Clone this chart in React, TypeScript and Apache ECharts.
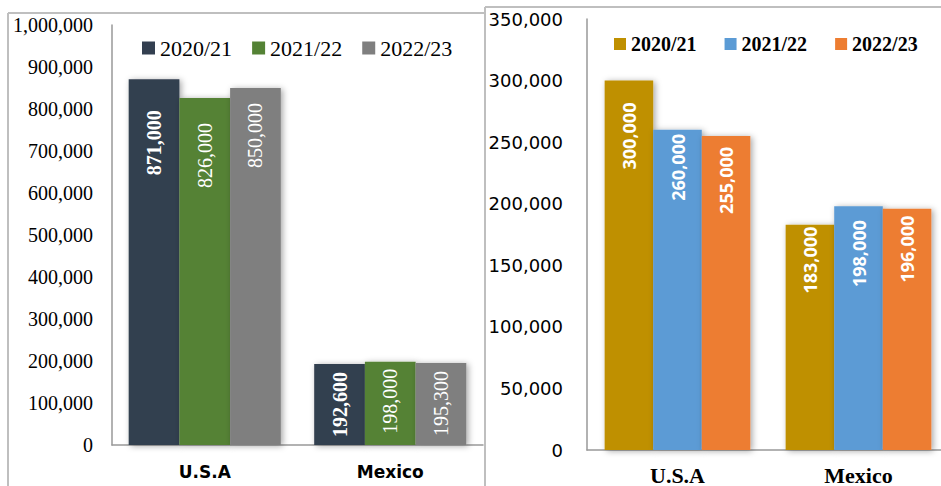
import React, { useEffect, useRef } from 'react';
import * as echarts from 'echarts';

const categories = ['U.S.A', 'Mexico'];
const seasons = ['2020/21', '2021/22', '2022/23'];

const leftSeason1 = [871000, 192600];
const leftSeason2 = [826000, 198000];
const leftSeason3 = [850000, 195300];

const rightSeason1 = [300000, 183000];
const rightSeason2 = [260000, 198000];
const rightSeason3 = [255000, 196000];

const leftAxisMax = 1000000;
const leftAxisStep = 100000;
const rightAxisMax = 350000;
const rightAxisStep = 50000;

const leftColors = ['#333F50', '#548235', '#7F7F7F'];
const rightColors = ['#BF9000', '#5B9BD5', '#ED7D31'];
const leftLabelPad = [[31, 8], [25, 7], [15, 8]];
const rightLabelPad = [[22, 2], [4, 14], [11, 7]];

const SERIF = '"Liberation Serif", "Times New Roman", serif';
const SANS = '"DejaVu Sans", Verdana, sans-serif';
const fmt = (v: number) => v.toLocaleString('en-US');

function makeSeries(
  prefix: string,
  idx: number,
  values: number[],
  color: string,
  pads: number[],
  axisIndex: number,
  gap: string,
  labelFont: any
) {
  return {
    type: 'bar',
    name: prefix + seasons[idx],
    xAxisIndex: axisIndex,
    yAxisIndex: axisIndex,
    barGap: '0%',
    barCategoryGap: gap,
    data: values.map((v, i) => ({ value: v, label: { distance: pads[i] } })),
    itemStyle: {
      color,
      shadowBlur: 6,
      shadowColor: 'rgba(0,0,0,0.35)',
      shadowOffsetX: 2,
      shadowOffsetY: 1,
    },
    label: {
      show: true,
      position: 'insideTop',
      rotate: 90,
      align: 'right',
      verticalAlign: 'middle',
      color: '#ffffff',
      ...labelFont,
      formatter: (p: any) => fmt(p.value),
    },
  };
}

export default function App() {
  const ref = useRef<HTMLDivElement>(null);
  useEffect(() => {
    if (!ref.current) return;
    const chart = echarts.init(ref.current, undefined, { renderer: 'svg' });
    const border = { stroke: '#BFBFBF', lineWidth: 2 };
    const leftValues = [leftSeason1, leftSeason2, leftSeason3];
    const rightValues = [rightSeason1, rightSeason2, rightSeason3];
    const series: any[] = [];
    leftValues.forEach((vals, i) =>
      series.push(
        makeSeries('L', i, vals, leftColors[i], leftLabelPad[i], 0, '18%', {
          fontFamily: SERIF,
          fontSize: 20,
          fontWeight: i === 0 ? 'bold' : 'normal',
        })
      )
    );
    rightValues.forEach((vals, i) =>
      series.push(
        makeSeries('R', i, vals, rightColors[i], rightLabelPad[i], 1, '19.5%', {
          fontFamily: '"Open Sans", "Noto Sans", sans-serif',
          fontSize: 18,
          fontWeight: 'bold',
        })
      )
    );
    chart.setOption({
      animation: false,
      backgroundColor: '#ffffff',
      graphic: [
        { type: 'line', shape: { x1: 8, y1: 13, x2: 8, y2: 486 }, style: border },
        { type: 'line', shape: { x1: 8, y1: 13, x2: 485, y2: 13 }, style: border },
        { type: 'line', shape: { x1: 485, y1: 7, x2: 485, y2: 486 }, style: border },
        { type: 'line', shape: { x1: 485, y1: 7, x2: 960, y2: 7 }, style: border },
      ],
      legend: [
        {
          data: seasons.map((s) => 'L' + s),
          formatter: (n: string) => n.slice(1),
          left: 142,
          top: 37,
          padding: 0,
          icon: 'rect',
          itemWidth: 13,
          itemHeight: 13,
          itemGap: 20,
          textStyle: { fontFamily: SERIF, fontSize: 22, color: '#000' },
        },
        {
          data: seasons.map((s) => 'R' + s),
          formatter: (n: string) => n.slice(1),
          left: 614,
          top: 34,
          padding: 0,
          icon: 'rect',
          itemWidth: 12,
          itemHeight: 12,
          itemGap: 28,
          textStyle: { fontFamily: SERIF, fontSize: 20, fontWeight: 'bold', color: '#000' },
        },
      ],
      grid: [
        { left: 112, top: 25, width: 371, height: 420 },
        { left: 587, top: 19, width: 362, height: 433 },
      ],
      xAxis: [
        {
          type: 'category',
          gridIndex: 0,
          data: categories,
          axisTick: { show: false },
          axisLine: { lineStyle: { color: '#999', width: 1.5 } },
          axisLabel: {
            margin: 18,
            fontFamily: SANS,
            fontWeight: 'bold',
            fontSize: 17,
            color: '#000',
          },
        },
        {
          type: 'category',
          gridIndex: 1,
          data: categories,
          axisTick: { show: false },
          axisLine: { lineStyle: { color: '#999', width: 1.5 } },
          axisLabel: {
            margin: 14,
            fontFamily: SERIF,
            fontWeight: 'bold',
            fontSize: 22,
            color: '#000',
          },
        },
      ],
      yAxis: [
        {
          type: 'value',
          gridIndex: 0,
          min: 0,
          max: leftAxisMax,
          interval: leftAxisStep,
          splitLine: { show: false },
          axisTick: { show: false },
          axisLine: { show: true, lineStyle: { color: '#999', width: 1.5 } },
          axisLabel: {
            margin: 19,
            fontFamily: SERIF,
            fontSize: 20,
            color: '#000',
            formatter: (v: number) => fmt(v),
          },
        },
        {
          type: 'value',
          gridIndex: 1,
          min: 0,
          max: rightAxisMax,
          interval: rightAxisStep,
          splitLine: { show: false },
          axisTick: { show: false },
          axisLine: { show: true, lineStyle: { color: '#999', width: 1.5 } },
          axisLabel: {
            margin: 24,
            fontFamily: SANS,
            fontSize: 18,
            color: '#000',
            formatter: (v: number) => fmt(v),
          },
        },
      ],
      series,
    });
    return () => chart.dispose();
  }, []);
  return (
    <div
      style={{
        position: 'absolute',
        left: 0,
        top: 0,
        width: 941,
        height: 486,
        overflow: 'hidden',
      }}
    >
      <div ref={ref} style={{ width: 960, height: 486 }} />
    </div>
  );
}
